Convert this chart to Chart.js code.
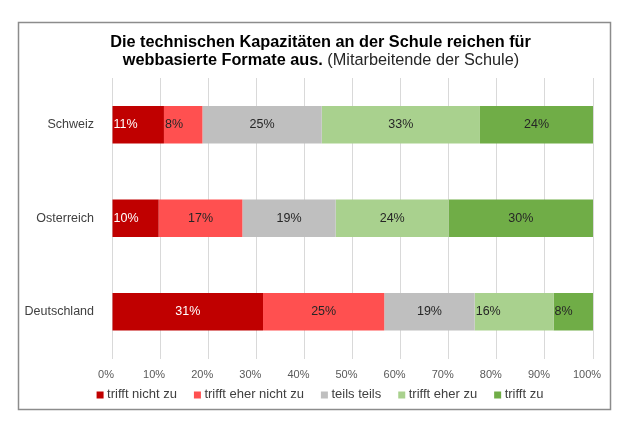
<!DOCTYPE html>
<html><head><meta charset="utf-8">
<script src="https://cdn.jsdelivr.net/npm/chart.js@4.4.0/dist/chart.umd.min.js"></script>
<style>html,body{margin:0;padding:0;background:#fff}#wrap{width:636px;height:437px;position:relative}</style>
</head><body><div id="wrap"><canvas id="c" width="636" height="437"></canvas></div>
<script>
const categories = ['Schweiz', 'Osterreich', 'Deutschland'];
const seriesNames = ['trifft nicht zu', 'trifft eher nicht zu', 'teils teils', 'trifft eher zu', 'trifft zu'];
const trifftNichtZu = [10.8, 9.7, 31.4];
const trifftEherNichtZu = [8.0, 17.4, 25.2];
const teilsTeils = [24.8, 19.4, 18.8];
const trifftEherZu = [32.9, 23.5, 16.4];
const trifftZu = [23.5, 30.0, 8.2];
const xTickLabels = ['0%', '10%', '20%', '30%', '40%', '50%', '60%', '70%', '80%', '90%', '100%'];
const titleLine1 = 'Die technischen Kapazitäten an der Schule reichen für';
const titleLine2Bold = 'webbasierte Formate aus.';
const titleLine2Normal = ' (Mitarbeitende der Schule)';

const seriesValues = [trifftNichtZu, trifftEherNichtZu, teilsTeils, trifftEherZu, trifftZu];
const seriesColors = ['#C00000', '#FF5050', '#BFBFBF', '#A9D18E', '#70AD47'];
const labelColors = ['#FFFFFF', '#262626', '#262626', '#262626', '#262626'];
const FAMILY = "'Liberation Sans', Arial, sans-serif";
const TITLE_SIZE = 16.3;

const framePlugin = {
  id: 'frame',
  beforeDraw(chart) {
    const ctx = chart.ctx;
    ctx.save();
    ctx.fillStyle = '#fff';
    ctx.fillRect(0, 0, chart.width, chart.height);
    ctx.strokeStyle = '#8C8C8C';
    ctx.lineWidth = 1.5;
    ctx.strokeRect(18.5, 22.5, 592, 387);
    ctx.restore();
  },
  afterDraw(chart) {
    const ctx = chart.ctx;
    ctx.save();
    ctx.fillStyle = '#000';
    ctx.textBaseline = 'middle';
    ctx.textAlign = 'center';
    ctx.font = 'bold ' + TITLE_SIZE + 'px ' + FAMILY;
    ctx.fillText(titleLine1, 320.5, 43);
    const wb = ctx.measureText(titleLine2Bold).width;
    ctx.font = TITLE_SIZE + 'px ' + FAMILY;
    const wn = ctx.measureText(titleLine2Normal).width;
    const x0 = 321 - (wb + wn) / 2;
    ctx.textAlign = 'left';
    ctx.font = 'bold ' + TITLE_SIZE + 'px ' + FAMILY;
    ctx.fillText(titleLine2Bold, x0, 61);
    ctx.font = TITLE_SIZE + 'px ' + FAMILY;
    ctx.fillStyle = '#262626';
    ctx.fillText(titleLine2Normal, x0 + wb, 61);

    // legend
    ctx.font = '13px ' + FAMILY;
    const sq = 7, gapT = 3.5, gapI = 17;
    const widths = chart.data.datasets.map(d => ctx.measureText(d.label).width);
    const total = widths.reduce((a, b) => a + b, 0) + widths.length * (sq + gapT) + (widths.length - 1) * gapI;
    let x = 320 - total / 2;
    const cy = 395;
    chart.data.datasets.forEach((d, i) => {
      ctx.fillStyle = d.backgroundColor;
      ctx.fillRect(x, cy - sq / 2, sq, sq);
      ctx.fillStyle = '#404040';
      ctx.textAlign = 'left';
      ctx.fillText(d.label, x + sq + gapT, cy - 0.5);
      x += sq + gapT + widths[i] + gapI;
    });
    ctx.restore();
  },
  afterDatasetsDraw(chart) {
    const ctx = chart.ctx;
    ctx.save();
    ctx.font = '12.5px ' + FAMILY;
    ctx.textBaseline = 'middle';
    chart.data.datasets.forEach((d, di) => {
      const meta = chart.getDatasetMeta(di);
      meta.data.forEach((el, i) => {
        const v = d.data[i];
        const txt = Math.round(v) + '%';
        const w = el.x - el.base;
        ctx.fillStyle = labelColors[di];
        if (w < 82) {
          ctx.textAlign = 'left';
          ctx.fillText(txt, el.base + 1, el.y);
        } else {
          ctx.textAlign = 'center';
          ctx.fillText(txt, (el.x + el.base) / 2, el.y);
        }
      });
    });
    ctx.restore();
  }
};

new Chart(document.getElementById('c'), {
  type: 'bar',
  data: {
    labels: categories,
    datasets: seriesNames.map((name, i) => ({
      label: name,
      data: seriesValues[i],
      backgroundColor: seriesColors[i],
      borderWidth: 0,
      barPercentage: 0.4,
      categoryPercentage: 1.0
    }))
  },
  options: {
    responsive: false,
    animation: false,
    devicePixelRatio: 1,
    indexAxis: 'y',
    layout: { padding: { left: 18, right: 43, top: 78, bottom: 48.5 } },
    scales: {
      x: {
        stacked: true, min: 0, max: 100,
        ticks: {
          stepSize: 10, autoSkip: false, maxRotation: 0,
          callback: (v) => xTickLabels[Math.round(v / 10)],
          font: { size: 11, family: FAMILY }, color: '#595959', padding: 10, labelOffset: -6
        },
        grid: { color: '#D9D9D9', lineWidth: 1, drawTicks: false },
        border: { display: false },
        afterFit(s) { s.height = 30; }
      },
      y: {
        stacked: true,
        ticks: { font: { size: 12.5, family: FAMILY }, color: '#404040', padding: 18 },
        grid: { display: false, drawTicks: false },
        border: { display: false },
        afterFit(s) { s.width = 94; }
      }
    },
    plugins: { legend: { display: false }, tooltip: { enabled: false }, title: { display: false } }
  },
  plugins: [framePlugin]
});
</script></body></html>
